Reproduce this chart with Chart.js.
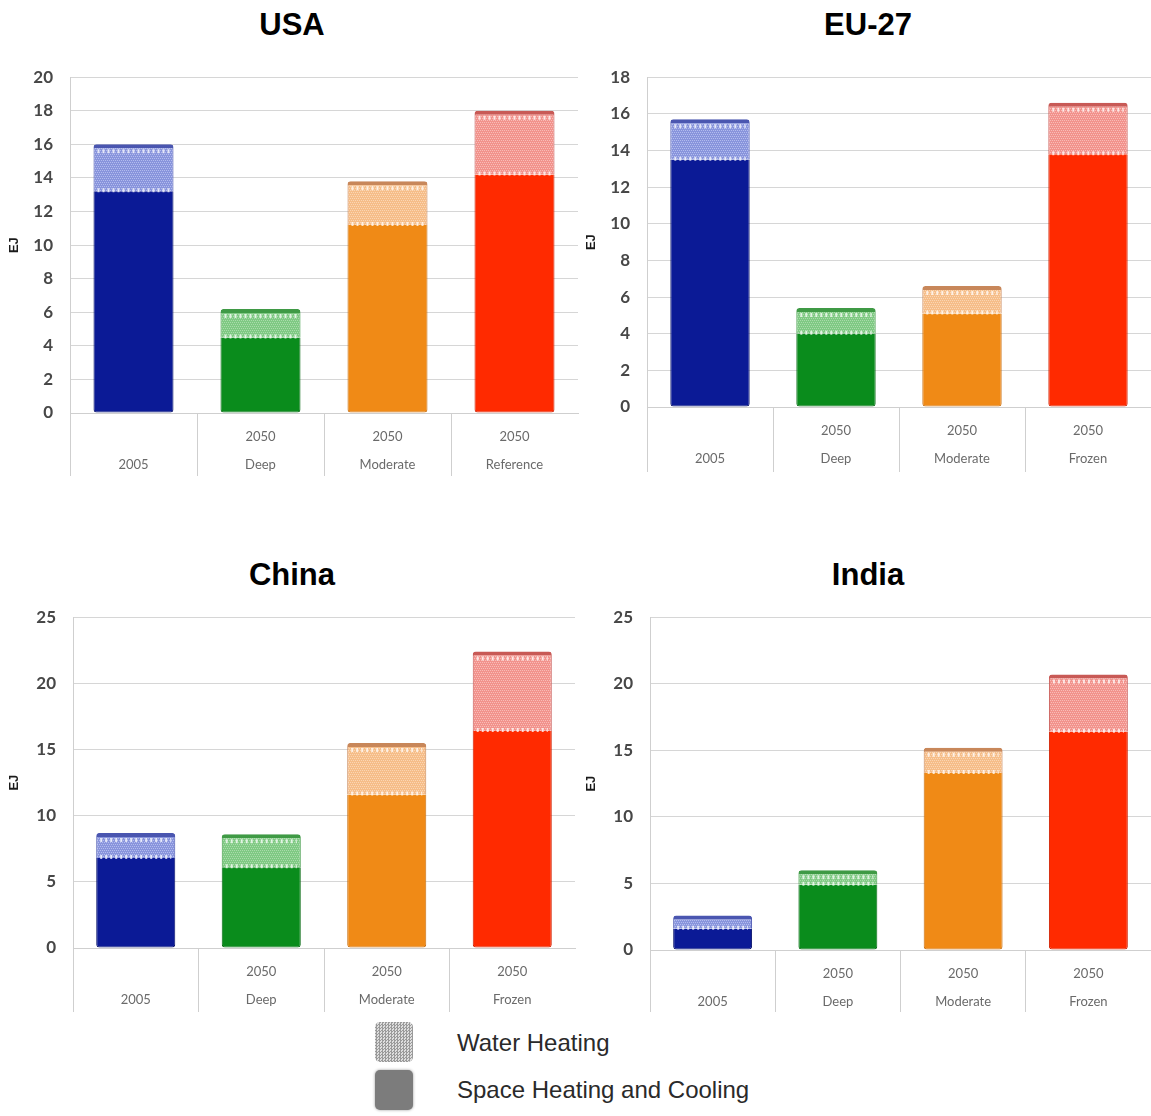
<!DOCTYPE html>
<html>
<head>
<meta charset="utf-8">
<script src="https://cdn.jsdelivr.net/npm/chart.js@4.4.0/dist/chart.umd.min.js"></script>
<style>
  html, body { margin: 0; padding: 0; background: #ffffff; }
  body { width: 1151px; height: 1116px; position: relative; overflow: hidden; font-family: "Liberation Sans", Arial, sans-serif; }
  .title { position: absolute; width: 300px; text-align: center; font-weight: bold; font-size: 31px; line-height: 36px; color: #000; }
  .panel { position: absolute; }
  .legend-item { position: absolute; left: 375px; width: 38px; height: 40px; border-radius: 5px; }
  .legend-text { position: absolute; left: 457px; font-family: "Liberation Sans", Arial, sans-serif; font-size: 24px; color: #2a2a2a; line-height: 30px; }
</style>
</head>
<body>
<div class="title" style="left:142px;top:7px;">USA</div>
<div class="title" style="left:718px;top:7px;">EU-27</div>
<div class="title" style="left:142px;top:557px;">China</div>
<div class="title" style="left:718px;top:557px;">India</div>

<canvas id="usa" class="panel" width="580" height="430" style="left:0px;top:50px;"></canvas>
<canvas id="eu" class="panel" width="574" height="430" style="left:577px;top:50px;"></canvas>
<canvas id="china" class="panel" width="580" height="430" style="left:0px;top:590px;"></canvas>
<canvas id="india" class="panel" width="574" height="430" style="left:577px;top:590px;"></canvas>

<div class="legend-item" style="top:1022px;background-color:#c8c8c8;background-image:repeating-conic-gradient(#9a9a9a 0 25%, #dedede 0 50%);background-size:3px 3px;"></div>
<div class="legend-text" style="top:1028px;">Water Heating</div>
<div class="legend-item" style="top:1070px;background:#7c7c7c;box-shadow:0 0 3px #999;"></div>
<div class="legend-text" style="top:1075px;">Space Heating and Cooling</div>

<script>
// ---------------- DATA ----------------
const catsUSA   = [["", "2005"], ["2050", "Deep"], ["2050", "Moderate"], ["2050", "Reference"]];
const catsOther = [["", "2005"], ["2050", "Deep"], ["2050", "Moderate"], ["2050", "Frozen"]];

const usaSpace   = [13.2, 4.5, 11.2, 14.2];
const usaWater   = [2.8, 1.7, 2.6, 3.8];
const euSpace    = [13.5, 4.0, 5.1, 13.8];
const euWater    = [2.2, 1.4, 1.5, 2.8];
const chinaSpace = [6.8, 6.1, 11.6, 16.4];
const chinaWater = [1.9, 2.5, 3.9, 6.0];
const indiaSpace = [1.6, 4.9, 13.3, 16.4];
const indiaWater = [1.0, 1.1, 1.9, 4.3];

const usaAxis   = { max: 20, step: 2 };
const euAxis    = { max: 18, step: 2 };
const chinaAxis = { max: 25, step: 5 };
const indiaAxis = { max: 25, step: 5 };

const seriesNames = ["Space Heating and Cooling", "Water Heating"];

// ---------------- STYLE ----------------
const spaceColors  = ["#0b1a96", "#0a8c1c", "#f08a16", "#ff2a00"];
const spaceBorders = ["#07116a", "#066a12", "#c86e0e", "#d02000"];
const waterBase    = ["#8894dc", "#7fc983", "#f6bd88", "#f2928c"];
const waterDot     = ["#b3bcee", "#a9dcaa", "#fad6b4", "#f8bcb8"];
const waterCaps    = ["#4a56b0", "#3f9a45", "#c8875a", "#c85a56"];

function makePattern(base, dot) {
  const c = document.createElement('canvas');
  c.width = 4; c.height = 4;
  const g = c.getContext('2d');
  g.fillStyle = base; g.fillRect(0, 0, 4, 4);
  g.fillStyle = dot;
  g.fillRect(0, 0, 1, 1); g.fillRect(2, 0, 1, 1);
  g.fillRect(1, 2, 1, 1); g.fillRect(3, 2, 1, 1);
  return g.createPattern(c, 'repeat');
}
const waterPatterns = waterBase.map((b, i) => makePattern(b, waterDot[i]));

// draws the little white tick rows on the water band (uses library element geometry)
const tickRowPlugin = {
  id: 'tickRows',
  afterDatasetsDraw(chart) {
    const meta = chart.getDatasetMeta(1);
    const ctx = chart.ctx;
    ctx.save();
    meta.data.forEach((bar) => {
      const p = bar.getProps(['x', 'y', 'base', 'width'], true);
      const l = p.x - p.width / 2 + 4, r = p.x + p.width / 2 - 4;
      ctx.strokeStyle = 'rgba(255,255,255,0.75)';
      ctx.lineWidth = 4;
      ctx.setLineDash([2, 3]);
      ctx.beginPath();
      ctx.moveTo(l, p.base - 1); ctx.lineTo(r, p.base - 1);
      if (p.base - p.y > 14) { ctx.moveTo(l, p.y + 7); ctx.lineTo(r, p.y + 7); }
      ctx.stroke();
    });
    ctx.restore();
  }
};

function buildChart(id, cats, space, water, axis, lay) {
  const ctx = document.getElementById(id).getContext('2d');
  return new Chart(ctx, {
    type: 'bar',
    data: {
      labels: cats,
      datasets: [
        {
          label: seriesNames[0],
          data: space,
          backgroundColor: spaceColors,
          borderColor: spaceBorders,
          borderWidth: { left: 1, right: 1, bottom: 1, top: 0 },
          borderRadius: { bottomLeft: 3, bottomRight: 3, topLeft: 0, topRight: 0 },
          borderSkipped: false,
          barPercentage: 0.63,
          categoryPercentage: 1.0
        },
        {
          label: seriesNames[1],
          data: water,
          backgroundColor: waterPatterns,
          borderColor: waterCaps,
          borderWidth: { left: 1, right: 1, top: 4, bottom: 0 },
          borderRadius: { topLeft: 3, topRight: 3, bottomLeft: 0, bottomRight: 0 },
          borderSkipped: false,
          barPercentage: 0.63,
          categoryPercentage: 1.0
        }
      ]
    },
    options: {
      responsive: false,
      animation: false,
      devicePixelRatio: 1,
      layout: { padding: lay.pad },
      plugins: { legend: { display: false }, tooltip: { enabled: false }, title: { display: false } },
      scales: {
        x: {
          stacked: true,
          offset: true,
          grid: {
            display: true,
            drawOnChartArea: false,
            drawTicks: true,
            tickLength: lay.xh,
            offset: true,
            color: (c) => (c.index === undefined || c.index >= cats.length) ? 'rgba(0,0,0,0)' : '#cfcfcf',
            lineWidth: 1
          },
          border: { display: true, color: '#cfcfcf' },
          ticks: {
            color: '#6a6a6a',
            font: { family: 'Lato', size: 13, lineHeight: 2.15 },
            padding: 10 - lay.xh,
            maxRotation: 0,
            autoSkip: false
          },
          afterFit: (s) => { s.height = lay.xh; }
        },
        y: {
          stacked: true,
          min: 0,
          max: axis.max,
          grid: { color: '#d6d6d6', drawTicks: false, lineWidth: 1 },
          border: { display: true, color: '#cfcfcf' },
          ticks: {
            stepSize: axis.step,
            color: '#474747',
            font: { family: 'Lato', size: 17, weight: 'bold' },
            padding: 17
          },
          title: {
            display: true,
            text: 'EJ',
            color: '#1a1a1a',
            font: { family: 'Liberation Sans', size: 13, weight: 'bold' },
            padding: { top: 7, bottom: 0 }
          },
          afterFit: (s) => { s.width = lay.yw; }
        }
      }
    },
    plugins: [tickRowPlugin]
  });
}

const layUSA   = { yw: 70, xh: 63, pad: { top: 19, right: 2, bottom: 4, left: 0 } };
const layEU    = { yw: 70, xh: 65, pad: { top: 17, right: 0, bottom: 8, left: 0 } };
const layChina = { yw: 73, xh: 64, pad: { top: 16, right: 5, bottom: 8, left: 0 } };
const layIndia = { yw: 73, xh: 62, pad: { top: 20, right: 0, bottom: 8, left: 0 } };

buildChart('usa',   catsUSA,   usaSpace,   usaWater,   usaAxis,   layUSA);
buildChart('eu',    catsOther, euSpace,    euWater,    euAxis,    layEU);
buildChart('china', catsOther, chinaSpace, chinaWater, chinaAxis, layChina);
buildChart('india', catsOther, indiaSpace, indiaWater, indiaAxis, layIndia);
</script>
</body>
</html>
